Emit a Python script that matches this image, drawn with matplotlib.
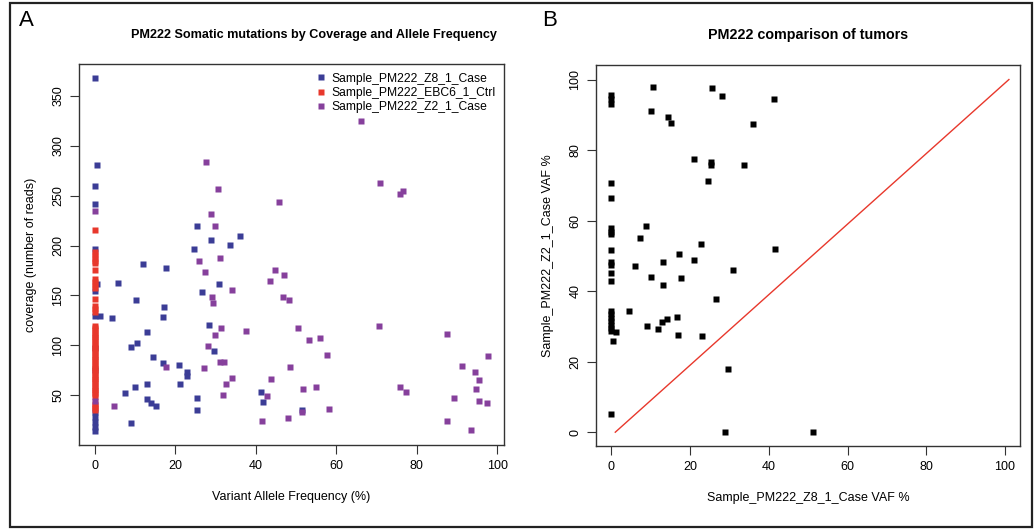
import matplotlib.pyplot as plt
from matplotlib.patches import Rectangle

plt.rcParams['font.family'] = ['Liberation Sans', 'DejaVu Sans']

# Panel A: Z8 case (blue)
z8_vaf = [0, 0.5, 0, 0, 0, 0.6, 0, 0, 0, 0, 0, 0, 0, 0, 0,
          25.3, 29, 33.7, 36, 24.8, 11.9, 17.8, 5.9, 30.9, 26.6, 10.2, 17.2, 17, 1.3, 4.4,
          28.3, 13, 10.6, 8.9, 29.6, 14.5, 16.9, 21, 23, 23, 10.1, 13, 21.1, 7.5, 13,
          14.1, 15.2, 25.3, 25.5, 8.9, 41.4, 41.7, 51.4]
z8_cov = [368, 281, 260, 242, 197, 161, 154, 129, 97, 75, 33, 28, 23, 18, 14,
          220, 206, 201, 210, 197, 182, 178, 162, 161, 153, 145, 138, 128, 129, 127,
          120, 113, 102, 98, 94, 88, 82, 80, 73, 69, 58, 61, 61, 52, 46,
          42, 39, 47, 35, 22, 53, 43, 35]

# Panel A: EBC6 control (red)
ctrl_cov = [216, 194, 191, 188, 185, 183, 176, 166, 163, 160, 157, 146, 139, 136, 133,
            119, 117, 115, 112, 110, 108, 106, 104, 101, 99, 97, 95, 93, 90, 88, 86, 84,
            81, 79, 77, 75, 73, 70, 68, 66, 64, 62, 59, 57, 55, 53, 51, 48, 41, 39, 37, 35]
ctrl_vaf = [0] * len(ctrl_cov)

# Panel A: Z2 case (purple)
z2_vaf = [66.1, 27.6, 30.7, 45.8, 71, 75.8, 76.5, 28.8, 29.8, 25.8, 31.2, 27.4, 44.8, 47,
          43.5, 34.1, 29.1, 29.4, 46.9, 48.2, 31.5, 29.8, 37.6, 50.4, 70.6, 87.5, 53.3, 56,
          28.2, 57.8, 97.8, 31.2, 32.2, 17.8, 27.1, 48.6, 91.2, 94.6, 95.5, 34.2, 43.8, 32.7,
          51.8, 55.1, 75.9, 77.4, 94.7, 31.9, 42.8, 89.4, 95.5, 97.6, 4.9, 58.3, 51.4, 41.6,
          48, 87.5, 93.4, 0, 0]
z2_cov = [325, 284, 257, 244, 263, 252, 255, 232, 220, 185, 188, 174, 176, 170,
          164, 155, 148, 142, 148, 145, 117, 110, 114, 117, 119, 111, 105, 107,
          99, 90, 89, 83, 83, 78, 77, 78, 79, 73, 65, 67, 66, 61,
          56, 58, 58, 53, 56, 50, 49, 47, 44, 42, 39, 36, 33, 24,
          27, 24, 15, 44, 235]

# Panel B: Z8 VAF vs Z2 VAF
b_z8 = [0, 0, 0, 0, 0, 0, 0, 0, 0, 0, 0, 0, 0, 0, 0, 0, 0, 0, 0, 0, 0,
        10.7, 25.6, 28.1, 41.2, 10.2, 14.5, 15.2, 36, 21.1, 25.2, 25.2, 33.6, 24.6, 8.8,
        7.4, 41.6, 22.9, 17.1, 21.1, 13.1, 6, 30.8, 10.1, 17.8, 13.1, 26.6, 4.6, 0.4,
        1.3, 9, 11.8, 12.9, 14.1, 16.8, 16.9, 23.1, 29.6, 28.9, 51.2]
b_z2 = [95.7, 94.5, 93.2, 70.6, 66.3, 57.9, 56.8, 56.1, 51.6, 48.3, 47.3, 45, 42.9,
        34.5, 33.5, 32.5, 31.5, 30.5, 29.5, 28.8, 5.1,
        97.8, 97.7, 95.4, 94.6, 91.2, 89.4, 87.6, 87.4, 77.4, 76.6, 75.8, 75.9, 71.1, 58.4,
        55.2, 51.9, 53.4, 50.5, 48.7, 48.3, 47.1, 45.9, 44, 43.6, 41.7, 37.9, 34.3, 25.8,
        28.3, 30, 29.3, 31.3, 32, 32.6, 27.6, 27.3, 18, 0, 0]
diag_x = [1, 101]
diag_y = [0, 100]

fig = plt.figure(figsize=(10.34, 5.29), dpi=100)

ms = 3.9
ax1 = fig.add_axes([0.0764, 0.1588, 0.411, 0.720])
ax1.plot(z8_vaf, z8_cov, 's', color='#3b3d96', ms=ms, mec='none', label='Sample_PM222_Z8_1_Case')
ax1.plot(ctrl_vaf, ctrl_cov, 's', color='#e8382c', ms=ms, mec='none', label='Sample_PM222_EBC6_1_Ctrl')
ax1.plot(z2_vaf, z2_cov, 's', color='#86409c', ms=ms, mec='none', label='Sample_PM222_Z2_1_Case')
ax1.set_xlim(-3.9, 101.7)
ax1.set_ylim(0, 382)
ax1.set_xticks([0, 20, 40, 60, 80, 100])
ax1.set_yticks([50, 100, 150, 200, 250, 300, 350])
ax1.set_xlabel('Variant Allele Frequency (%)', fontsize=9, labelpad=14)
ax1.set_ylabel('coverage (number of reads)', fontsize=9, labelpad=11)
ax1.legend(loc='upper right', bbox_to_anchor=(1.0, 1.0), frameon=False, fontsize=8.7,
           handletextpad=0.35, labelspacing=0.2, borderaxespad=0.3, handlelength=1.0)

ax2 = fig.add_axes([0.5764, 0.157, 0.410, 0.720])
ax2.plot(b_z8, b_z2, 's', color='black', ms=ms, mec='none')
ax2.plot(diag_x, diag_y, color='#e8382c', lw=1)
ax2.set_xlim(-3.9, 103.8)
ax2.set_ylim(-3.9, 104.1)
ax2.set_xticks([0, 20, 40, 60, 80, 100])
ax2.set_yticks([0, 20, 40, 60, 80, 100])
ax2.set_xlabel('Sample_PM222_Z8_1_Case VAF %', fontsize=9, labelpad=14)
ax2.set_ylabel('Sample_PM222_Z2_1_Case VAF %', fontsize=9, labelpad=11)

for ax in (ax1, ax2):
    for s in ax.spines.values():
        s.set_color('#333333')
        s.set_linewidth(1.0)
    ax.tick_params(direction='out', length=6.5, width=0.8, color='#333333', labelsize=9, pad=4)
    for lab in ax.get_yticklabels():
        lab.set_rotation(90)
        lab.set_va('center')

fig.text(0.3037, 0.934, 'PM222 Somatic mutations by Coverage and Allele Frequency',
         ha='center', va='center', fontsize=9.1, fontweight='bold')
fig.text(0.7815, 0.934, 'PM222 comparison of tumors',
         ha='center', va='center', fontsize=10.3, fontweight='bold')
fig.text(0.018, 0.962, 'A', ha='left', va='center', fontsize=16)
fig.text(0.524, 0.962, 'B', ha='left', va='center', fontsize=16)

fig.patches.append(Rectangle((10 / 1034, 2 / 529), 1022 / 1034, 524 / 529,
                             transform=fig.transFigure, fill=False,
                             edgecolor='#222222', linewidth=1.6))

fig.savefig('out.png', dpi=100)
